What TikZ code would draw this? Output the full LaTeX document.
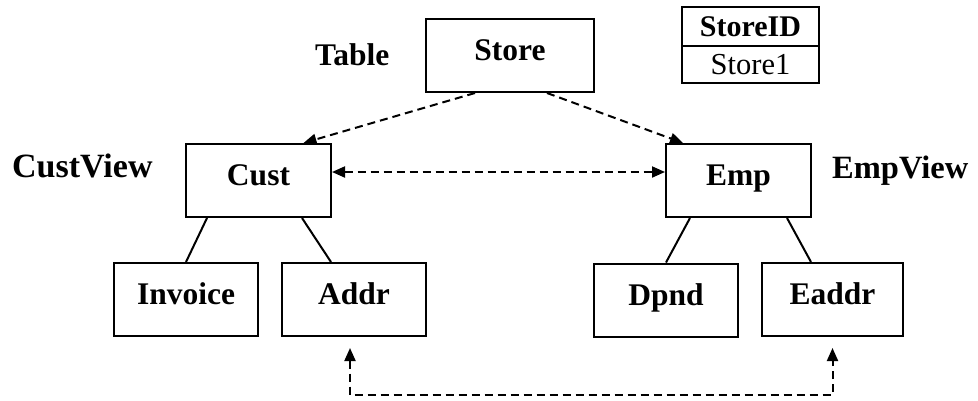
\documentclass[tikz,border=0pt]{standalone}
\usepackage{fontspec}
\setmainfont{Liberation Serif}
\usetikzlibrary{arrows.meta,calc}
\tikzset{
  box/.style={draw,line width=2pt,inner sep=0pt,minimum width=144pt,minimum height=73pt,
    text height=21pt,text depth=11pt,
    font=\fontsize{31.5}{36}\selectfont\bfseries},
  cell/.style={draw,line width=2pt,inner sep=0pt,outer sep=0pt,minimum width=137pt},
  lbl/.style={inner sep=0pt,anchor=base west,font=\fontsize{32.5}{38}\selectfont\bfseries},
  solidline/.style={line width=2pt},
  dashline/.style={line width=2pt,dash pattern=on 8pt off 5pt},
  tip/.style={-{Triangle[length=13pt,width=11pt]}},
  tips/.style={{Triangle[length=13pt,width=11pt]}-{Triangle[length=13pt,width=11pt]}}
}
\begin{document}
\begin{tikzpicture}[x=1pt,y=-1pt]
\useasboundingbox (0,0) rectangle (978,400);
% boxes
\node[box,minimum width=168pt] (store) at (510,55.5) {Store};
\node[cell,minimum height=39pt,font=\fontsize{30}{34}\selectfont\bfseries] (sid) at (750.5,26.5) {StoreID};
\node[cell,minimum height=37pt,font=\fontsize{30.5}{34}\selectfont,anchor=north] (sv) at (sid.south) {Store1};
\node[box,minimum width=145pt] (cust) at (258.5,180.5) {Cust};
\node[box,minimum width=145pt] (emp) at (738.5,180.5) {Emp};
\node[box] (inv) at (186,299.5) {Invoice};
\node[box] (addr) at (354,299.5) {Addr};
\node[box] (dpnd) at (666,300) {Dpnd};
\node[box,minimum width=141pt] (eaddr) at (832.5,299.5) {Eaddr};
% labels
\node[lbl,font=\fontsize{31.5}{36}\selectfont\bfseries] (tbl) at (315,65) {Table};
\node[lbl,font=\fontsize{34}{38}\selectfont\bfseries] (cv) at (12,177) {CustView};
\node[lbl] (ev) at (832,178) {EmpView};
% connectors
\draw[dashline,tip] ($(store.south)+(-35,0)$) -- ($(cust.north)+(45,0)$);
\draw[dashline,tip] ($(store.south)+(37,0)$) -- ($(emp.north west)+(18,0)$);
\draw[dashline,tips] ([yshift=8.5pt]cust.east) -- ([yshift=8.5pt]emp.west);
\draw[solidline] ($(cust.south)+(-51.5,0)$) -- (inv.north);
\draw[solidline] ($(cust.south)+(43.5,0)$) -- ($(addr.north)+(-23,0)$);
\draw[solidline] ($(emp.south)+(-48.5,0)$) -- (dpnd.north);
\draw[solidline] ($(emp.south)+(48.5,0)$) -- ($(eaddr.north)+(-21.5,0)$);
\coordinate (bl) at ($(addr.south)+(-4,58)$);
\draw[dashline,tips] ([xshift=-4pt,yshift=-11pt]addr.south) -- (bl) -| ([yshift=-11pt]eaddr.south);
\end{tikzpicture}
\end{document}
